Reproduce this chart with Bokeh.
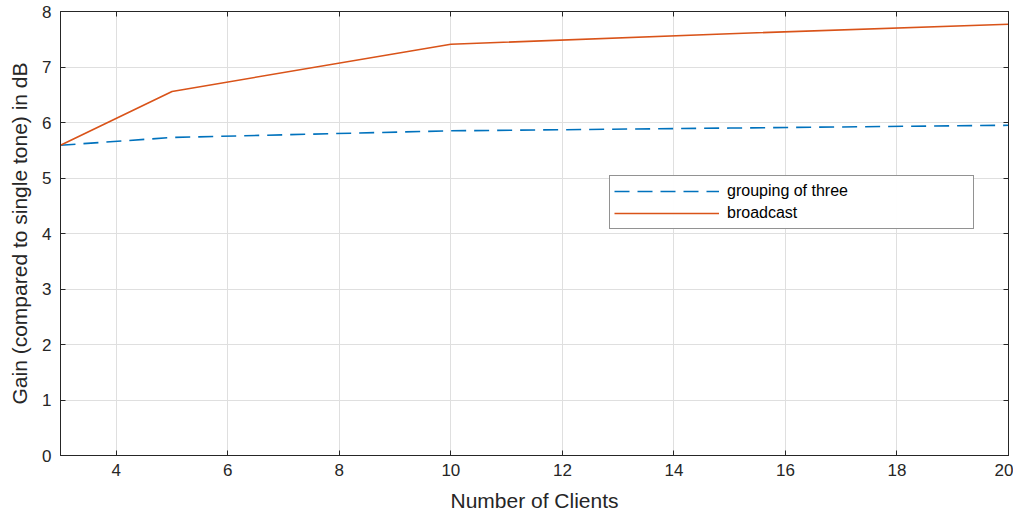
from bokeh.plotting import figure
from bokeh.models import LinearAxis, Range1d, FixedTicker, Legend, LegendItem
from bokeh.embed import file_html
from bokeh.resources import INLINE

clients = [3, 5, 10, 15, 20]
grouping = [5.59, 5.73, 5.85, 5.90, 5.95]
broadcast = [5.59, 6.56, 7.41, 7.60, 7.77]
xticks = [4, 6, 8, 10, 12, 14, 16, 18, 20]
yticks = [0, 1, 2, 3, 4, 5, 6, 7, 8]

FONT = "Liberation Sans"
AX = "#262626"

p = figure(width=1013, height=514, output_backend="svg", toolbar_location=None,
           x_range=Range1d(3, 20), y_range=Range1d(0, 8),
           min_border_left=60, min_border_right=5, min_border_top=11, min_border_bottom=52)
p.outline_line_color = AX
p.outline_line_width = 1

for ax in (p.xaxis[0], p.yaxis[0]):
    ax.major_tick_in = 5
    ax.major_tick_out = 0
    ax.minor_tick_line_color = None
    ax.axis_line_color = AX
    ax.major_tick_line_color = AX
    ax.major_label_text_font = FONT
    ax.major_label_text_font_size = "17px"
    ax.major_label_text_color = AX
    ax.axis_label_text_font = FONT
    ax.axis_label_text_font_size = "21px"
    ax.axis_label_text_font_style = "normal"
    ax.axis_label_text_color = AX

p.xaxis.ticker = FixedTicker(ticks=xticks)
p.yaxis.ticker = FixedTicker(ticks=yticks)
p.xaxis.axis_label = "Number of Clients"
p.yaxis.axis_label = "Gain (compared to single tone) in dB"
p.xaxis.major_label_standoff = 8
p.yaxis.major_label_standoff = 9
p.xaxis.axis_label_standoff = 10
p.yaxis.axis_label_standoff = 8

top = LinearAxis(ticker=FixedTicker(ticks=xticks), major_label_text_font_size="0px",
                 major_tick_in=5, major_tick_out=0, minor_tick_line_color=None,
                 axis_line_color=AX, major_tick_line_color=AX, major_label_standoff=0)
right = LinearAxis(ticker=FixedTicker(ticks=yticks), major_label_text_font_size="0px",
                   major_tick_in=5, major_tick_out=0, minor_tick_line_color=None,
                   axis_line_color=AX, major_tick_line_color=AX, major_label_standoff=0)
p.add_layout(top, "above")
p.add_layout(right, "right")

p.xgrid.ticker = FixedTicker(ticks=xticks)
p.ygrid.ticker = FixedTicker(ticks=yticks)
p.grid.grid_line_color = "#dfdfdf"
p.grid.grid_line_width = 1

g = p.line(clients, grouping, line_color="#0072BD", line_width=1.6, line_dash="15 8")
b = p.line(clients, broadcast, line_color="#D95319", line_width=1.6)

legend = Legend(items=[LegendItem(label="grouping of three", renderers=[g]),
                       LegendItem(label="broadcast", renderers=[b])],
                location=(549, 226), padding=4, spacing=0, margin=0,
                glyph_width=105, glyph_height=22, label_standoff=8, label_width=242,
                label_text_font=FONT, label_text_font_size="16px", label_text_color="black",
                label_height=22,
                border_line_color=AX, border_line_width=1, background_fill_color="white")
p.add_layout(legend, "center")

open("out.html", "w").write(file_html(p, INLINE))
